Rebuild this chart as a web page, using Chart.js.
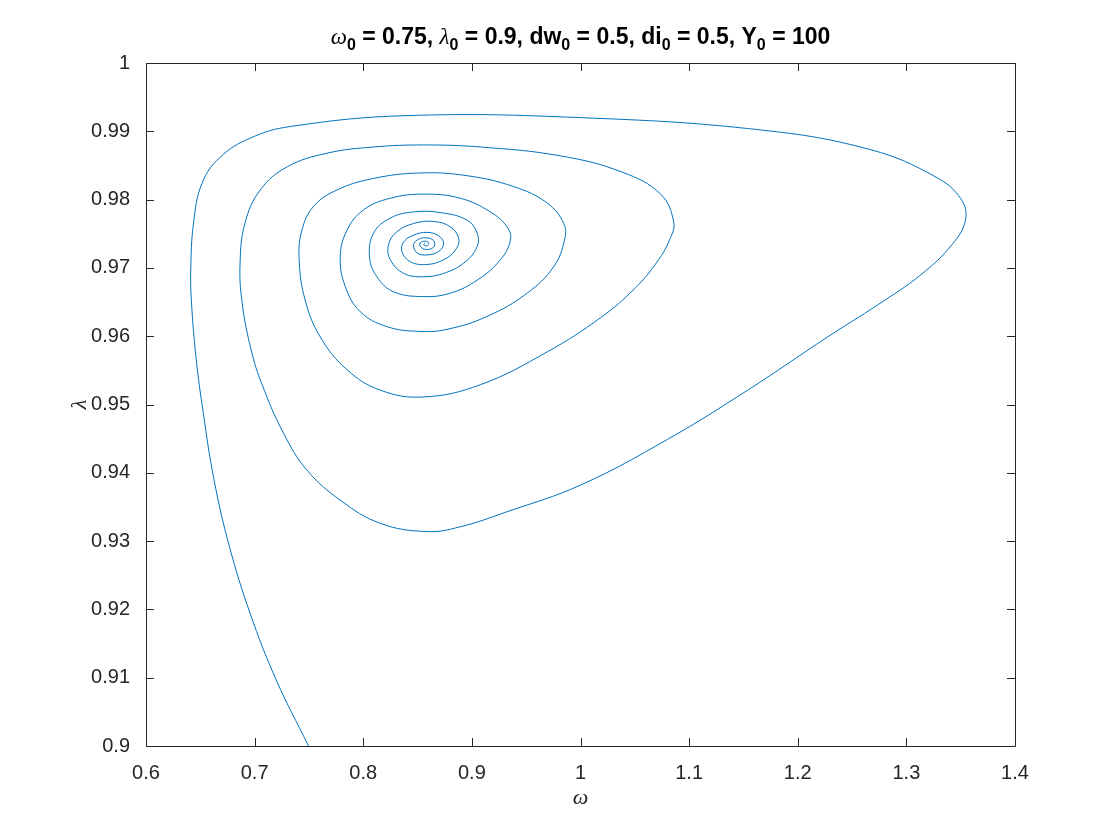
<!DOCTYPE html>
<html>
<head>
<meta charset="utf-8">
<script src="https://cdn.jsdelivr.net/npm/chart.js@4.4.1/dist/chart.umd.min.js"></script>
<style>
  html, body { margin: 0; padding: 0; background: #fff; }
</style>
</head>
<body>
<canvas id="phase" width="1120" height="840"></canvas>
<script>
// trajectory, in drawing order (outer start -> spiral centre)
const omega = [
  0.7496, 0.7198, 0.6959, 0.6768, 0.6627, 0.6528, 0.6461, 0.6419, 0.6412, 0.6438,
  0.6516, 0.6682, 0.6959, 0.7327, 0.8403, 1.0000, 1.1659, 1.2673, 1.3272, 1.3502,
  1.3544, 1.3419, 1.3134, 1.2737, 1.2276, 1.1539, 1.0802, 1.0000, 0.9324, 0.8894,
  0.8587, 0.8157, 0.7788, 0.7481, 0.7266, 0.7069, 0.6968, 0.6885, 0.6866, 0.6912,
  0.7051, 0.7300, 0.7668, 0.8092, 0.8553, 0.9078, 0.9816, 1.0387, 1.0737, 1.0858,
  1.0820, 1.0710, 1.0507, 1.0184, 0.9693, 0.9078, 0.8553, 0.8157, 0.7850, 0.7604,
  0.7465, 0.7410, 0.7435, 0.7542, 0.7757, 0.8095, 0.8525, 0.8956, 0.9385, 0.9693,
  0.9846, 0.9853, 0.9754, 0.9509, 0.9140, 0.8771, 0.8525, 0.8218, 0.7972, 0.7834,
  0.7788, 0.7850, 0.8003, 0.8249, 0.8556, 0.8894, 0.9170, 0.9324, 0.9355, 0.9263,
  0.9048, 0.8802, 0.8556, 0.8279, 0.8126, 0.8058, 0.8095, 0.8249, 0.8464, 0.8710,
  0.8956, 0.9048, 0.9048, 0.8925, 0.8740, 0.8556, 0.8372, 0.8249, 0.8233, 0.8310,
  0.8464, 0.8648, 0.8802, 0.8879, 0.8848, 0.8740, 0.8587, 0.8433, 0.8356, 0.8372,
  0.8464, 0.8587, 0.8694, 0.8740, 0.8694, 0.8587, 0.8495, 0.8464, 0.8510, 0.8587,
  0.8648, 0.8654, 0.8602, 0.8541, 0.8519, 0.8556, 0.8602, 0.8587, 0.8556, 0.8571
];
const lambda = [
  0.9000, 0.9097, 0.9194, 0.9292, 0.9389, 0.9487, 0.9568, 0.9649, 0.9697, 0.9766,
  0.9824, 0.9862, 0.9890, 0.9907, 0.9923, 0.9920, 0.9902, 0.9873, 0.9833, 0.9801,
  0.9770, 0.9734, 0.9690, 0.9646, 0.9599, 0.9521, 0.9449, 0.9382, 0.9343, 0.9321,
  0.9314, 0.9326, 0.9360, 0.9404, 0.9458, 0.9529, 0.9580, 0.9649, 0.9707, 0.9766,
  0.9814, 0.9848, 0.9868, 0.9877, 0.9880, 0.9877, 0.9864, 0.9840, 0.9808, 0.9767,
  0.9741, 0.9710, 0.9671, 0.9627, 0.9577, 0.9529, 0.9511, 0.9521, 0.9551, 0.9599,
  0.9653, 0.9712, 0.9755, 0.9790, 0.9814, 0.9831, 0.9839, 0.9835, 0.9819, 0.9795,
  0.9765, 0.9741, 0.9702, 0.9663, 0.9629, 0.9610, 0.9607, 0.9614, 0.9636, 0.9673,
  0.9716, 0.9755, 0.9785, 0.9802, 0.9808, 0.9802, 0.9782, 0.9760, 0.9741, 0.9712,
  0.9682, 0.9663, 0.9658, 0.9665, 0.9687, 0.9716, 0.9751, 0.9773, 0.9782, 0.9781,
  0.9770, 0.9751, 0.9731, 0.9707, 0.9692, 0.9687, 0.9692, 0.9712, 0.9734, 0.9753,
  0.9765, 0.9768, 0.9760, 0.9743, 0.9726, 0.9712, 0.9705, 0.9709, 0.9724, 0.9738,
  0.9748, 0.9752, 0.9747, 0.9736, 0.9724, 0.9719, 0.9722, 0.9734, 0.9742, 0.9744,
  0.9740, 0.9732, 0.9727, 0.9729, 0.9735, 0.9739, 0.9737, 0.9732, 0.9734, 0.9736
];

const xTicks = [0.6, 0.7, 0.8, 0.9, 1, 1.1, 1.2, 1.3, 1.4];
const yTicks = [0.9, 0.91, 0.92, 0.93, 0.94, 0.95, 0.96, 0.97, 0.98, 0.99, 1];

// title pieces: [text, kind]  g = greek, b = bold, s = subscript
const titleParts = [
  ['\u03C9', 'g'], ['0', 's'], [' = 0.75, ', 'b'],
  ['\u03BB', 'g'], ['0', 's'], [' = 0.9, dw', 'b'],
  ['0', 's'], [' = 0.5, di', 'b'],
  ['0', 's'], [' = 0.5, Y', 'b'],
  ['0', 's'], [' = 100', 'b']
];
const xLabel = '\u03C9';
const yLabel = '\u03BB';

const axisColor = '#262626';
const sans = '"Liberation Sans", Arial, Helvetica, sans-serif';
const serif = '"Liberation Serif", "Times New Roman", serif';

const points = omega.map((w, i) => ({ x: w, y: lambda[i] }));

// matlab style box: inward ticks on all four sides, title and axis labels
const matlabBox = {
  id: 'matlabBox',
  afterDraw(chart) {
    const { ctx, chartArea: a, scales } = chart;
    ctx.save();
    ctx.strokeStyle = axisColor;
    ctx.lineWidth = 1;
    ctx.beginPath();
    ctx.rect(a.left + 0.5, a.top + 0.5, a.right - a.left, a.bottom - a.top);
    const tl = 8;
    scales.x.ticks.forEach(t => {
      const px = Math.round(scales.x.getPixelForValue(t.value)) + 0.5;
      ctx.moveTo(px, a.bottom); ctx.lineTo(px, a.bottom - tl);
      ctx.moveTo(px, a.top); ctx.lineTo(px, a.top + tl);
    });
    scales.y.ticks.forEach(t => {
      const py = Math.round(scales.y.getPixelForValue(t.value)) + 0.5;
      ctx.moveTo(a.left, py); ctx.lineTo(a.left + tl, py);
      ctx.moveTo(a.right, py); ctx.lineTo(a.right - tl, py);
    });
    ctx.stroke();

    // title
    const fonts = {
      g: 'italic 23px ' + serif,
      b: 'bold 23px ' + sans,
      s: 'bold 16px ' + sans
    };
    let total = 0;
    titleParts.forEach(p => { ctx.font = fonts[p[1]]; total += ctx.measureText(p[0]).width; });
    let x = (a.left + a.right) / 2 - total / 2;
    const base = 44;
    ctx.fillStyle = '#000';
    ctx.textBaseline = 'alphabetic';
    ctx.textAlign = 'left';
    titleParts.forEach(p => {
      ctx.font = fonts[p[1]];
      ctx.fillText(p[0], x, p[1] === 's' ? base + 6 : base);
      x += ctx.measureText(p[0]).width;
    });

    // axis labels
    ctx.fillStyle = axisColor;
    ctx.font = 'italic 22px ' + serif;
    ctx.textAlign = 'center';
    ctx.textBaseline = 'middle';
    ctx.fillText(xLabel, (a.left + a.right) / 2, 798);
    ctx.translate(80, (a.top + a.bottom) / 2);
    ctx.rotate(-Math.PI / 2);
    ctx.fillText(yLabel, 0, 0);
    ctx.restore();
  }
};

const fmt = v => String(+v.toFixed(3));

new Chart(document.getElementById('phase'), {
  type: 'scatter',
  data: {
    datasets: [{
      data: points,
      showLine: true,
      borderColor: '#0072BD',
      borderWidth: 1,
      pointRadius: 0,
      tension: 0.4,
      fill: false
    }]
  },
  options: {
    responsive: false,
    animation: false,
    layout: { padding: { top: 63, right: 105, left: 0, bottom: 0 } },
    plugins: { legend: { display: false }, tooltip: { enabled: false } },
    scales: {
      x: {
        type: 'linear',
        min: 0.6, max: 1.4,
        grid: { display: false },
        border: { display: false },
        afterBuildTicks: s => { s.ticks = xTicks.map(v => ({ value: v })); },
        afterFit: s => { s.height = 94; },
        ticks: { color: axisColor, font: { family: sans, size: 20 }, padding: 7, callback: fmt, maxRotation: 0, autoSkip: false }
      },
      y: {
        type: 'linear',
        min: 0.9, max: 1,
        grid: { display: false },
        border: { display: false },
        afterBuildTicks: s => { s.ticks = yTicks.map(v => ({ value: v })); },
        afterFit: s => { s.width = 146; },
        ticks: { color: axisColor, font: { family: sans, size: 20 }, padding: 8, callback: fmt, autoSkip: false }
      }
    }
  },
  plugins: [matlabBox]
});
</script>
</body>
</html>
